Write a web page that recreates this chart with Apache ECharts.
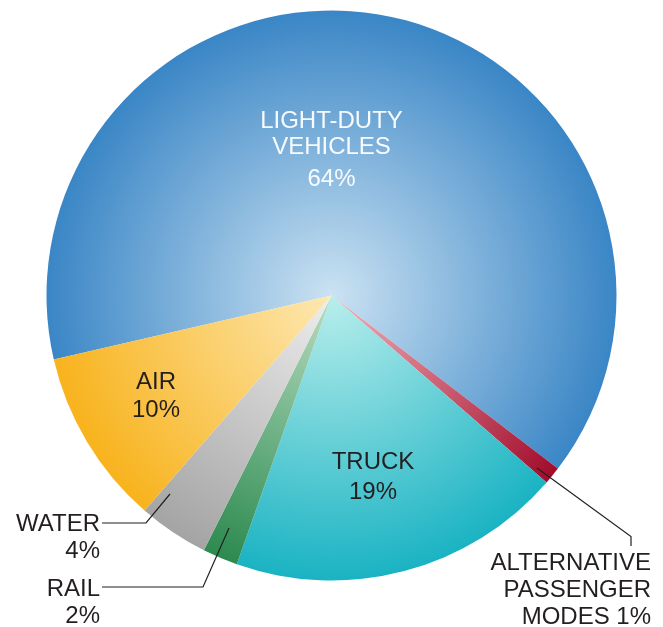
<!DOCTYPE html>
<html>
<head>
<meta charset="utf-8">
<script src="https://cdn.jsdelivr.net/npm/echarts@6/dist/echarts.min.js"></script>
<style>
html,body{margin:0;padding:0;background:#fff;}
#chart{width:663px;height:627px;}
</style>
</head>
<body>
<div id="chart"></div>
<script>
// Data
var categories = ['LIGHT-DUTY VEHICLES', 'ALTERNATIVE PASSENGER MODES', 'TRUCK', 'RAIL', 'WATER', 'AIR'];
var values = [64, 1, 19, 2, 4, 10];
var labelTexts = [
  '{a|LIGHT-DUTY}\n{a|VEHICLES}\n{b|64%}',
  'ALTERNATIVE\nPASSENGER\nMODES 1%',
  'TRUCK\n19%',
  'RAIL\n2%',
  'WATER\n4%',
  'AIR\n10%'
];
var innerColors = ['#cbe2f2', '#f2b3bb', '#b9eeec', '#b9ddc2', '#eeeeee', '#fde8b2'];
var outerColors = ['#3a86c6', '#a20c2b', '#1ab3c3', '#2c8a4f', '#a4a4a4', '#f8b31d'];

var CX = 331.5, CY = 295.5, R = 285;
var FONT = '"Liberation Sans", Arial, sans-serif';
var FS = 24;

function grad(i) {
  return {
    type: 'radial', x: CX, y: CY, r: R, global: true,
    colorStops: [{offset: 0, color: innerColors[i]}, {offset: 1, color: outerColors[i]}]
  };
}

// label placement per category
var labelPlacement = {
  0: {x: 331.5, y: 108, align: 'center'},
  1: {x: 651, y: 549.5, align: 'right', line: [[537, 468], [631, 536.5], [631, 546]]},
  2: {x: 373, y: 447, align: 'center'},
  3: {x: 100, y: 575.5, align: 'right', line: [[229, 528], [203, 587], [102, 587]]},
  4: {x: 100, y: 511, align: 'right', line: [[170, 494], [146, 523], [102, 523]]},
  5: {x: 156, y: 368, align: 'center'}
};
var lineHeights = [26, 27.3, 30, 27, 27, 28.5];

var sliceData = categories.map(function (c, i) {
  return {name: c, value: values[i], itemStyle: {color: grad(i)}};
});

var labelData = categories.map(function (c, i) {
  var outside = !!labelPlacement[i].line;
  return {
    name: c,
    value: values[i],
    itemStyle: {color: 'rgba(0,0,0,0)'},
    label: {
      formatter: labelTexts[i],
      color: i === 0 ? '#f7fbfe' : '#231f20',
      lineHeight: lineHeights[i]
    },
    labelLine: {show: outside, lineStyle: {color: '#231f20', width: 1.2}}
  };
});

var common = {
  type: 'pie',
  center: [CX, CY],
  radius: R,
  startAngle: 193,
  clockwise: true,
  avoidLabelOverlap: false,
  silent: true,
  emphasis: {disabled: true},
  itemStyle: {borderWidth: 0}
};

var chart = echarts.init(document.getElementById('chart'), null, {renderer: 'canvas'});
chart.setOption({
  animation: false,
  backgroundColor: '#ffffff',
  series: [
    Object.assign({}, common, {
      z: 2,
      data: sliceData,
      label: {show: false},
      labelLine: {show: false}
    }),
    Object.assign({}, common, {
      z: 5,
      data: labelData,
      label: {
        show: true,
        position: 'outside',
        fontFamily: FONT,
        fontSize: FS,
        rich: {
          a: {fontSize: FS, lineHeight: 26, color: '#f7fbfe', fontFamily: FONT},
          b: {fontSize: FS, lineHeight: 38, color: '#f7fbfe', fontFamily: FONT}
        }
      },
      labelLayout: function (params) {
        var p = labelPlacement[params.dataIndex];
        var res = {x: p.x, y: p.y, align: p.align, verticalAlign: 'top'};
        if (p.line) res.labelLinePoints = p.line;
        return res;
      }
    })
  ]
});
</script>
</body>
</html>
